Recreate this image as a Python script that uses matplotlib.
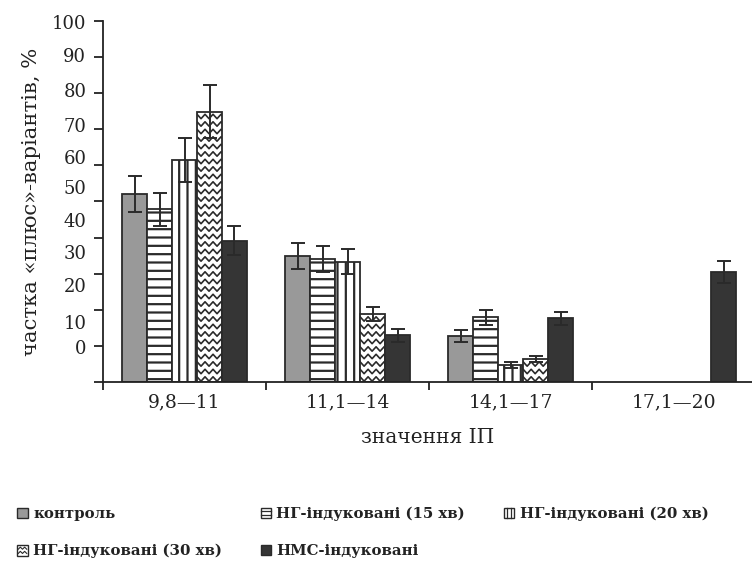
import numpy as np
import matplotlib
matplotlib.use("Agg")
import matplotlib.pyplot as plt
from matplotlib.lines import Line2D
from matplotlib.patches import Rectangle
from matplotlib.legend_handler import HandlerBase

categories = ["9,8—11", "11,1—14", "14,1—17", "17,1—20"]
series_names = ["контроль", "НГ-індуковані (15 хв)", "НГ-індуковані (20 хв)",
                "НГ-індуковані (30 хв)", "НМС-індуковані"]
control = [52.0, 34.9, 12.8, 0.0]
ng15 = [47.8, 34.1, 17.9, 0.0]
ng20 = [61.5, 33.3, 4.6, 0.0]
ng30 = [74.9, 18.8, 6.3, 0.0]
nms = [39.1, 12.9, 17.6, 30.5]
control_err = [5.0, 3.6, 1.7, 0.0]
ng15_err = [4.6, 3.6, 2.0, 0.0]
ng20_err = [6.2, 3.4, 0.8, 0.0]
ng30_err = [7.4, 1.9, 0.8, 0.0]
nms_err = [4.0, 1.7, 1.7, 3.1]
ytick_values = [0, 10, 20, 30, 40, 50, 60, 70, 80, 90, 100]
# label positions as printed (labels are offset from tick marks in the original)
ylabel_positions = [9.7, 16.6, 26.9, 36.0, 44.9, 54.0, 62.3, 71.2, 80.9, 90.6, 99.8]

values = [control, ng15, ng20, ng30, nms]
errors = [control_err, ng15_err, ng20_err, ng30_err, nms_err]
fills = ["#999999", "white", "white", "white", "#353535"]
hatches = [None, "--", "||", None, None]
kinds = ["plain", "h", "v", "wave", "plain"]

plt.rcParams["hatch.linewidth"] = 1.6
plt.rcParams["hatch.color"] = "#2a2a2a"

edge = "#2a2a2a"


class PatternHandler(HandlerBase):
    def __init__(self, kind, face):
        super().__init__()
        self.kind = kind
        self.face = face

    def create_artists(self, legend, orig_handle, xdescent, ydescent, width,
                       height, fontsize, trans):
        x0, y0 = -xdescent, -ydescent
        rect = Rectangle((x0, y0), width, height, facecolor=self.face,
                         edgecolor=edge, lw=1.0, transform=trans)
        arts = [rect]
        if self.kind == "h":
            for f in (1 / 3, 2 / 3):
                arts.append(Line2D([x0, x0 + width], [y0 + f * height] * 2,
                                   color=edge, lw=0.9, transform=trans))
        elif self.kind == "v":
            for f in (1 / 3, 2 / 3):
                arts.append(Line2D([x0 + f * width] * 2, [y0, y0 + height],
                                   color=edge, lw=0.9, transform=trans))
        elif self.kind == "wave":
            for f in (0.3, 0.7):
                xs = x0 + width * np.array([0.1, 0.3, 0.5, 0.7, 0.9])
                ys = y0 + height * (f + np.array([-0.1, 0.1, -0.1, 0.1, -0.1]))
                arts.append(Line2D(xs, ys, color=edge, lw=0.8, transform=trans))
        return arts


fig = plt.figure(figsize=(7.52, 5.67), dpi=100)
ax = fig.add_axes([0.137, 0.3263, 0.863, 0.6367])

x = np.arange(len(categories))
w = 0.153
bar_containers = []
for i, (vals, errs) in enumerate(zip(values, errors)):
    xs = x + (i - 2) * w
    mask = np.array(vals) > 0
    bc = ax.bar(xs[mask], np.array(vals)[mask], width=w, color=fills[i],
                edgecolor=edge, linewidth=1.3, hatch=hatches[i],
                label=series_names[i], zorder=2)
    ax.errorbar(xs[mask], np.array(vals)[mask], yerr=np.array(errs)[mask],
                fmt="none", ecolor="#2a2a2a", elinewidth=1.4, capsize=5,
                capthick=1.4, zorder=3)
    bar_containers.append(bc)

ax.set_xlim(-0.5, 3.48)
ax.set_ylim(0, 100)

# wavy hatch for 30 min series, built from bar geometry
fig.canvas.draw()
inv = ax.transData.inverted()
for rect in bar_containers[3]:
    bx, by = rect.get_x(), rect.get_y()
    bw, bh = rect.get_width(), rect.get_height()
    p0 = ax.transData.transform((bx, by))
    p1 = ax.transData.transform((bx + bw, by + bh))
    row = p0[1] + 3
    while row < p1[1] + 4:
        px = np.arange(p0[0] - 4, p1[0] + 5, 4.0)
        py = row + np.where(np.arange(len(px)) % 2 == 0, -2.2, 2.2)
        pts = inv.transform(np.column_stack([px, py]))
        ln = Line2D(pts[:, 0], pts[:, 1], color="#2a2a2a", lw=1.2, zorder=2.5)
        ax.add_line(ln)
        ln.set_clip_path(rect)
        row += 7.5

for s in ["top", "right"]:
    ax.spines[s].set_visible(False)
for s in ["left", "bottom"]:
    ax.spines[s].set_color("#222222")
    ax.spines[s].set_linewidth(1.3)

serif = "DejaVu Serif"
ax.set_yticks(ytick_values)
ax.set_yticklabels([])
ax.tick_params(axis="y", which="major", length=6.8, width=1.3, color="#222222")
ax.set_yticks(ylabel_positions, minor=True)
ax.set_yticklabels([str(v) for v in ytick_values], minor=True,
                   fontfamily=serif, fontsize=13, color="#222222")
ax.tick_params(axis="y", which="minor", length=0, pad=12)

ax.set_xticks(np.arange(-0.5, 3.0, 1.0))
ax.set_xticklabels([])
ax.tick_params(axis="x", which="major", length=5.5, width=1.3, color="#222222")
ax.set_xticks(x, minor=True)
ax.set_xticklabels(categories, minor=True, fontfamily=serif, fontsize=13.5,
                   color="#222222")
ax.tick_params(axis="x", which="minor", length=0, pad=8)

ax.set_xlabel("значення ІП", fontfamily=serif, fontsize=14.5, color="#222222",
              labelpad=12)
ax.set_ylabel("частка «плюс»-варіантів, %", fontfamily=serif, fontsize=15.2,
              color="#222222", labelpad=8)

handles, labels = ax.get_legend_handles_labels()
order = [0, 3, 1, 4, 2]
hmap = {handles[k]: PatternHandler(kinds[k], fills[k]) for k in range(len(handles))}
leg = fig.legend([handles[k] for k in order], [labels[k] for k in order],
                 loc="upper left", bbox_to_anchor=(0.005, 0.13), ncol=3,
                 frameon=False, handlelength=0.72, handleheight=0.72,
                 handletextpad=0.35, columnspacing=2.6, labelspacing=1.55,
                 handler_map=hmap,
                 prop={"family": serif, "weight": "bold", "size": 10.7})
for t in leg.get_texts():
    t.set_color("#222222")

fig.savefig("out.png", dpi=100)
